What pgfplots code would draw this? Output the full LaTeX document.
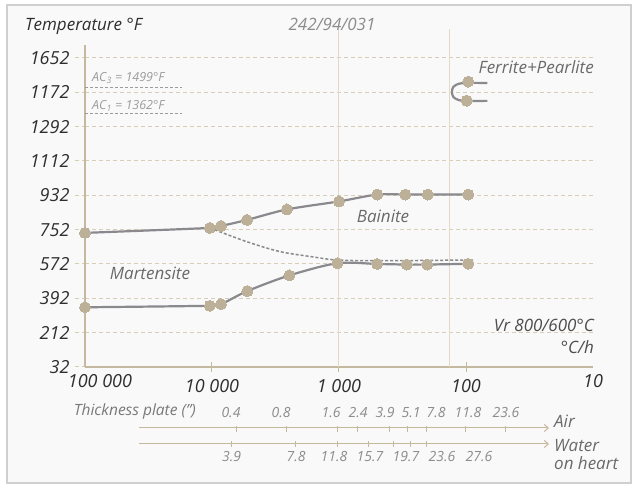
\documentclass[border=0pt]{standalone}
\usepackage{fontspec}
\setmainfont{Open Sans}
\usepackage{pgfplots}
\pgfplotsset{compat=1.18}
\usetikzlibrary{arrows.meta}
\definecolor{tanpt}{HTML}{BCB198}
\definecolor{curve}{HTML}{8A8A8E}
\definecolor{gridc}{HTML}{D8CDB7}
\definecolor{axisc}{HTML}{C4B89E}
\definecolor{vline}{HTML}{E2D9C6}
\definecolor{lab}{HTML}{2E2E2E}
\definecolor{midc}{HTML}{6A6A6A}
\definecolor{lightc}{HTML}{8C8C8C}
\definecolor{acc}{HTML}{9C9C9C}
\definecolor{framec}{HTML}{CFCFCF}
\definecolor{bgc}{HTML}{F9F9F9}
\newcommand\fs[1]{\fontsize{#1bp}{#1bp}\selectfont\itshape}
\begin{document}
\begin{tikzpicture}[x=1bp,y=1bp]
\useasboundingbox (0,0) rectangle (633,489);
\fill[white] (0,0) rectangle (633,489);
\draw[framec, fill=bgc, line width=1.5bp] (7,489-5) rectangle (631,489-483);
\begin{axis}[
  at={(85bp,122bp)}, anchor=south west,
  scale only axis, width=508bp, height=322bp,
  xmode=log, log basis x=10, x dir=reverse,
  xmin=10, xmax=100000, ymin=32, ymax=1720,
  axis x line=bottom, axis y line=left,
  axis line style={-, draw=axisc, line width=1.5bp},
  /pgf/number format/assume math mode=true,
  ytick={32,212,392,572,752,932,1112,1292,1472,1652},
  yticklabels={32,212,392,572,752,932,1112,1292,1172,1652},
  xtick={10000,1000,100},
  xticklabels={10 000,1 000,100},
  extra x ticks={100000,10},
  extra x tick labels={\hspace*{30bp}100 000,10},
  extra x tick style={major tick length=0pt},
  xminorticks=false, yminorticks=false,
  ymajorgrids,
  grid style={gridc, dash pattern=on 4bp off 3bp, line width=1bp},
  ytick style={gridc, dash pattern=on 4bp off 3bp, line width=1bp},
  xtick style={axisc, line width=1bp},
  xtick align=center, ytick align=outside, major tick length=10bp,
  ticklabel style={font={\fs{18}}, text=lab},
  xticklabel style={yshift=-4bp},
  yticklabel style={xshift=-2bp},
  clip=false,
]
% vertical reference lines
\addplot[vline, line width=1bp] coordinates {(1000,32) (1000,1804)};
\addplot[vline, line width=1bp] coordinates {(134,32) (134,1804)};
% AC lines
\addplot[acc, line width=0.8bp, dash pattern=on 3bp off 2bp] coordinates {(100000,1499) (17200,1499)};
\addplot[acc, line width=0.8bp, dash pattern=on 3bp off 2bp] coordinates {(100000,1362) (17200,1362)};
% dashed transition curve
\addplot[curve, line width=1.5bp, dash pattern=on 3bp off 2bp, smooth, tension=0.5] coordinates {
 (10400,761) (5330,689) (2920,637) (1600,609) (1040,593) (475,589) (88,593)};
% upper solid curve
\addplot[curve, line width=2.2bp, smooth, tension=0.5] coordinates {
 (100000,735) (10400,761) (8500,771) (5300,803) (2570,858) (1000,900) (500,936) (300,936) (200,936) (96,936)};
% lower solid curve
\addplot[curve, line width=2.2bp, smooth, tension=0.5] coordinates {
 (100000,345) (10400,353) (8500,361) (5270,430) (2460,512) (1030,576) (500,572) (293,569) (202,569) (96,573)};
% ferrite+pearlite nose
\addplot[curve, line width=2.2bp, smooth, tension=0.5] coordinates {
 (68,1521) (100,1521) (115,1516) (126,1500) (129,1474) (126,1448) (115,1432) (100,1427) (68,1427)};
% points
\addplot[tanpt, only marks, mark=*, mark size=5.5bp, mark options={solid, fill=tanpt, draw=tanpt, line width=0pt}] coordinates {
 (100000,735) (10400,761) (8500,771) (5300,803) (2570,858) (1000,900) (500,936) (300,936) (200,936) (96,936)
 (100000,345) (10400,353) (8500,361) (5270,430) (2460,512) (1030,576) (500,572) (293,569) (202,569) (96,573)
 (96,1528) (98.6,1428)};
\end{axis}
% texts
\node[anchor=mid west, inner sep=0, text=lab, font={\fs{17}}] at (25,489-28) {Temperature °F};
\node[anchor=mid, inner sep=0, text=lightc, font={\fs{17}}] at (332,489-28) {242/94/031};
\node[anchor=mid east, inner sep=0, text=midc, font={\fs{17}}] at (594,489-71) {Ferrite+Pearlite};
\node[anchor=mid, inner sep=0, text=midc, font={\fs{17}}] at (150,489-277) {Martensite};
\node[anchor=mid, inner sep=0, text=midc, font={\fs{17}}] at (383,489-220) {Bainite};
\node[anchor=mid east, inner sep=0, text=lab!85, font={\fs{17}}] at (594,489-329) {Vr 800/600°C};
\node[anchor=mid east, inner sep=0, text=lab!85, font={\fs{17}}] at (594,489-351) {°C/h};
\node[anchor=mid west, inner sep=0, text=acc, font={\fs{12.5}}] at (92,489-79) {AC\textsubscript{3} = 1499°F};
\node[anchor=mid west, inner sep=0, text=acc, font={\fs{12.5}}] at (92,489-107) {AC\textsubscript{1} = 1362°F};
% bottom scales
\draw[axisc, line width=1bp, -{Straight Barb[length=4bp,width=7bp]}] (139,489-428) -- (549,489-428);
\draw[axisc, line width=1bp, -{Straight Barb[length=4bp,width=7bp]}] (139,489-444) -- (549,489-444);
\foreach \x in {236.7,286.7,337.7,357.3,389.3,407.3,426.7,465,505}
  \draw[axisc, line width=1bp] (\x,489-426) -- (\x,489-432);
\foreach \x in {231,295,337.5,368,393,410,426.7}
  \draw[axisc, line width=1bp] (\x,489-441) -- (\x,489-447);
\foreach \x/\t in {231/0.4,281/0.8,331/1.6,358/2.4,385/3.9,411/5.1,436/7.8,468/11.8,506/23.6}
  \node[anchor=mid, inner sep=0, text=lightc, font={\fs{14}}] at (\x,489-415) {\t};
\foreach \x/\t in {231.7/3.9,296/7.8,334/11.8,370/15.7,406/19.7,442/23.6,479/27.6}
  \node[anchor=mid, inner sep=0, text=lightc, font={\fs{14}}] at (\x,489-459) {\t};
\node[anchor=mid east, inner sep=0, text=midc!90, font={\fs{15.5}}] at (196,489-413) {Thickness plate (")};
\node[anchor=mid west, inner sep=0, text=midc, font={\fs{17}}] at (554,489-425) {Air};
\node[anchor=mid west, inner sep=0, text=midc, font={\fs{17}}] at (554,489-449) {Water};
\node[anchor=mid west, inner sep=0, text=midc, font={\fs{17}}] at (554,489-467) {on heart};
\end{tikzpicture}
\end{document}
